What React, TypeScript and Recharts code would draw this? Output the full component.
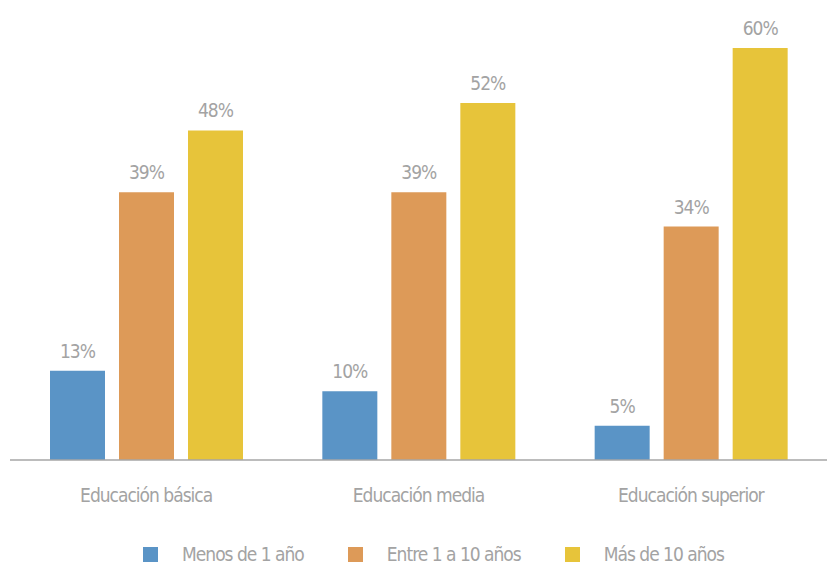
import React from "react";
import { BarChart, Bar, XAxis, YAxis, Legend, LabelList } from "recharts";

const categories = ["Educación básica", "Educación media", "Educación superior"];
const menosDe1 = [13, 10, 5];
const entre1y10 = [39, 39, 34];
const masDe10 = [48, 52, 60];

const seriesNames = ["Menos de 1 año", "Entre 1 a 10 años", "Más de 10 años"];
const seriesColors = ["#5a94c6", "#dd9a58", "#e7c43a"];

const data = categories.map((name, i) => ({
  name,
  menos: menosDe1[i],
  entre: entre1y10[i],
  mas: masDe10[i],
}));

const FONT = '"DejaVu Sans Condensed", "Liberation Sans Narrow", sans-serif';
const GREY = "#a3a3a3";

const LegendBox = () => (
  <div
    style={{
      height: 44,
      display: "flex",
      justifyContent: "center",
      paddingLeft: 30,
      fontFamily: FONT,
      fontSize: 19,
      letterSpacing: -1,
      color: GREY,
    }}
  >
    {seriesNames.map((s, i) => (
      <div
        key={s}
        style={{
          display: "flex",
          alignItems: "center",
          marginTop: 26,
          height: 17,
          lineHeight: "17px",
          marginLeft: i === 0 ? 0 : 44,
        }}
      >
        <span
          style={{
            display: "inline-block",
            width: 15,
            height: 15,
            background: seriesColors[i],
            marginRight: 24,
          }}
        />
        <span>{s}</span>
      </div>
    ))}
  </div>
);

const pct = (v: any) => `${v}%`;

export default function App() {
  const keys = ["menos", "entre", "mas"];
  return (
    <div style={{ position: "absolute", left: 0, top: 0, background: "#fff" }}>
      <BarChart
        width={827}
        height={564}
        data={data}
        margin={{ top: 48, right: 0, left: 10, bottom: 0 }}
        barSize={55}
        barGap={14}
      >
        <XAxis
          dataKey="name"
          tickLine={false}
          tickSize={0}
          tickMargin={29}
          height={60}
          axisLine={{ stroke: "#a6a6a6", strokeWidth: 1.5 }}
          tick={{ fill: GREY, fontSize: 19, fontFamily: FONT, letterSpacing: -1 }}
        />
        <YAxis hide domain={[0, 60]} />
        <Legend verticalAlign="bottom" height={44} content={() => <LegendBox />} />
        {keys.map((k, i) => (
          <Bar
            key={k}
            dataKey={k}
            name={seriesNames[i]}
            fill={seriesColors[i]}
            isAnimationActive={false}
          >
            <LabelList
              dataKey={k}
              position="top"
              offset={13}
              formatter={pct}
              style={{ fill: GREY, fontSize: 19, fontFamily: FONT, letterSpacing: -1 }}
            />
          </Bar>
        ))}
      </BarChart>
    </div>
  );
}
